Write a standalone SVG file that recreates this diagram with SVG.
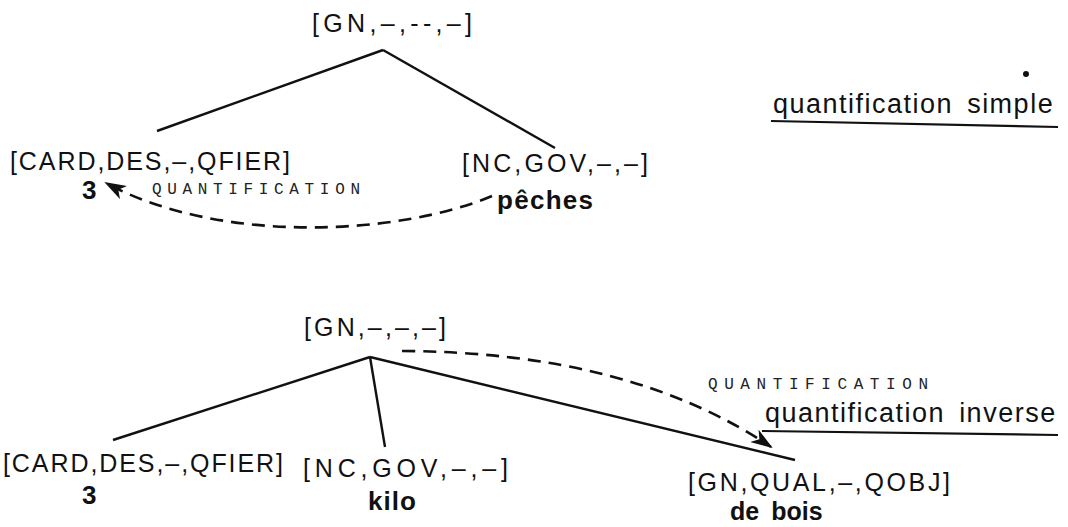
<svg xmlns="http://www.w3.org/2000/svg" width="1068" height="527" viewBox="0 0 1068 527">
<style>
.lbl{font-family:"Liberation Sans",Arial,sans-serif;font-size:25px;fill:#111}
.bld{font-family:"Liberation Sans",Arial,sans-serif;font-size:26px;font-weight:bold;fill:#111}
.ttl{font-family:"Liberation Sans",Arial,sans-serif;font-size:27px;fill:#111;letter-spacing:1.5px}
.dot{font-family:"Liberation Mono","Courier New",monospace;font-size:16px;fill:#222}
.edge{stroke:#111;stroke-width:2.4;fill:none}
.dash{stroke:#111;stroke-width:2.6;fill:none;stroke-dasharray:13 8}
.ul{stroke:#111;stroke-width:2.2;fill:none}
</style>
<defs>
<marker id="ah" viewBox="0 0 22 15" refX="20" refY="7.5" markerWidth="22" markerHeight="15" markerUnits="userSpaceOnUse" orient="auto">
<path d="M0,0 L22,7.5 L0,15 L6,7.5 Z" fill="#111"/>
</marker>
</defs>
<g id="connectors">
<line class="edge" x1="383" y1="50" x2="157" y2="131"/>
<line class="edge" x1="383" y1="50" x2="555" y2="148"/>
<path class="dash" d="M492 196 C400 235,220 245,106 183" marker-end="url(#ah)"/>
<line class="edge" x1="370" y1="357" x2="113" y2="440"/>
<line class="edge" x1="370" y1="357" x2="385" y2="447"/>
<line class="edge" x1="370" y1="357" x2="795" y2="460"/>
<path class="dash" d="M402 351 Q630 352 771 447" marker-end="url(#ah)"/>
</g>
<g id="n_gn_top"><text class="lbl" x="312" y="32" textLength="160" lengthAdjust="spacing">[GN,–,--,–]</text></g>
<g id="n_card_top">
<text class="lbl" x="10" y="170" textLength="280" lengthAdjust="spacing">[CARD,DES,–,QFIER]</text>
<text class="bld" x="82" y="199">3</text>
</g>
<g id="n_nc_top">
<text class="lbl" x="462" y="172" textLength="186" lengthAdjust="spacing">[NC,GOV,–,–]</text>
<text class="bld" x="497" y="209" textLength="96" lengthAdjust="spacing">pêches</text>
</g>
<g id="lbl_q_top"><text class="dot" x="152" y="194" textLength="208" lengthAdjust="spacing">QUANTIFICATION</text></g>
<g id="title_simple">
<circle cx="1026" cy="74" r="3" fill="#111"/>
<text class="ttl" x="773" y="113">quantification<tspan dx="14">simple</tspan></text>
<line class="ul" x1="771" y1="121" x2="1058" y2="127"/>
</g>
<g id="n_gn_bot"><text class="lbl" x="304" y="336" textLength="142" lengthAdjust="spacing">[GN,–,–,–]</text></g>
<g id="n_card_bot">
<text class="lbl" x="3" y="472" textLength="280" lengthAdjust="spacing">[CARD,DES,–,QFIER]</text>
<text class="bld" x="82" y="504">3</text>
</g>
<g id="n_nc_bot">
<text class="lbl" x="303" y="477" textLength="205" lengthAdjust="spacing">[NC,GOV,–,–]</text>
<text class="bld" x="368" y="510" textLength="48" lengthAdjust="spacing">kilo</text>
</g>
<g id="n_gnqual_bot">
<text class="lbl" x="688" y="491" textLength="262" lengthAdjust="spacing">[GN,QUAL,–,QOBJ]</text>
<text class="bld" x="730" y="520" style="font-size:25px">de<tspan dx="12">bois</tspan></text>
</g>
<g id="lbl_q_bot"><text class="dot" x="708" y="389" textLength="220" lengthAdjust="spacing">QUANTIFICATION</text></g>
<g id="title_inverse">
<text class="ttl" x="765" y="422">quantification<tspan dx="14">inverse</tspan></text>
<line class="ul" x1="762" y1="431" x2="1058" y2="435"/>
</g>
</svg>
